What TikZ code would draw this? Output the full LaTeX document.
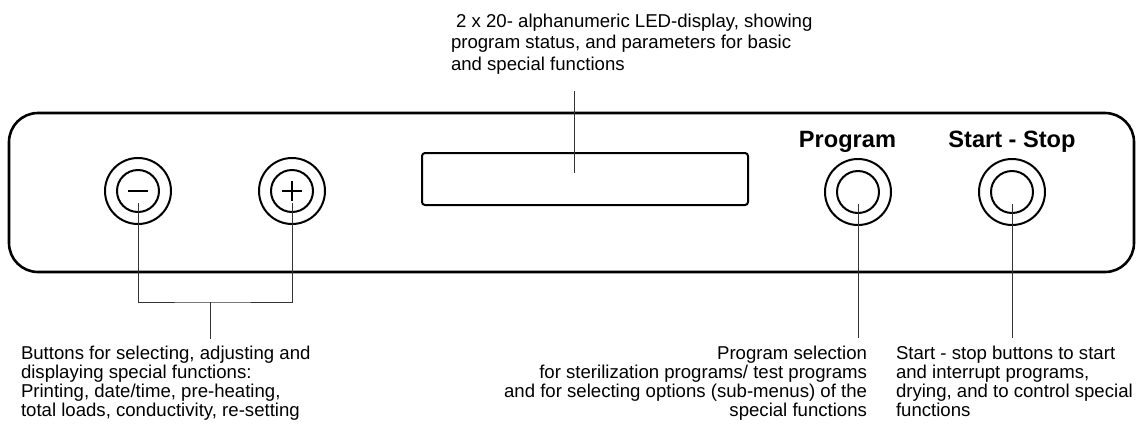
\documentclass[tikz,border=0pt]{standalone}
\usepackage{fontspec}
\setmainfont{Liberation Sans}
\usetikzlibrary{positioning}

\begin{document}
\begin{tikzpicture}[x=1pt,y=-1pt,
  every node/.style={inner sep=0pt,outer sep=0pt},
  knob/.style={circle,draw,line width=2pt,minimum size=66pt},
  knobcap/.style={circle,draw,line width=2pt,minimum size=42pt},
  lead/.style={black!80,line width=0.9pt},
  note/.style={font=\fontsize{18.6}{19}\selectfont},
  title/.style={font=\fontsize{23.6}{28}\selectfont\bfseries}]
\useasboundingbox (0,0) rectangle (1136,432);

% front panel
\draw[line width=2.6pt,rounded corners=29pt] (9,113) rectangle (1134,272);
\node[draw,line width=2pt,rounded corners=3pt,minimum width=326pt,minimum height=52pt] (lcd) at (585,179) {};

\node[knob] (minus) at (138,191) {};
\node[knobcap] (minus-in) at (138,191) {};
\node[knob] (plus) at (292,191) {};
\node[knobcap] (plus-in) at (292,191) {};
\node[knob] (prog) at (858,192) {};
\node[knobcap] (prog-in) at (858,192) {};
\node[knob] (start) at (1012,192) {};
\node[knobcap] (start-in) at (1012,192) {};

\draw[line width=2pt] ([xshift=-10pt]minus.center) -- ([xshift=10pt]minus.center);
\draw[line width=2pt] ([xshift=-10pt]plus.center) -- ([xshift=10pt]plus.center)
  ([yshift=-10pt]plus.center) -- ([yshift=10pt]plus.center);

\node[title,anchor=base] (prog-lbl) at (847.5,147) {Program};
\node[title,anchor=base] (start-lbl) at (1012,147) {Start - Stop};

% notes
\node[note,font=\fontsize{18.6}{21.5}\selectfont,align=left,anchor=north west] (lcd-note) at (451,14)
  {\ 2 x 20- alphanumeric LED-display, showing\\program status, and parameters for basic\\and special functions};
\node[note,align=left,anchor=north west] (btn-note) at (21,346)
  {Buttons for selecting, adjusting and\\displaying special functions:\\Printing, date/time, pre-heating,\\total loads, conductivity, re-setting};
\node[note,align=right,anchor=north east] (prog-note) at (867,346)
  {Program selection\\for sterilization programs/ test programs\\and for selecting options (sub-menus) of the\\special functions};
\node[note,align=left,anchor=north west] (start-note) at (896,346)
  {Start - stop buttons to start\\and interrupt programs,\\drying, and to control special\\functions};

% leaders
\coordinate (fork) at (210,302);
\coordinate (btn-tip) at (210,339);
\coordinate (lcd-top) at (574,91);
\coordinate (lcd-tip) at (574,173);
\coordinate (prog-tip) at (858,338);
\coordinate (start-tip) at (1012,338);
\draw[lead] ([yshift=-12pt]minus.center) |- (fork) -| ([yshift=-12pt]plus.center);
\draw[lead] (fork) -- (btn-tip);
\draw[lead] (lcd-top) -- (lcd-tip);
\draw[lead] ([yshift=-12pt]prog.center) -- (prog-tip);
\draw[lead] ([yshift=-12pt]start.center) -- (start-tip);
\end{tikzpicture}
\end{document}
